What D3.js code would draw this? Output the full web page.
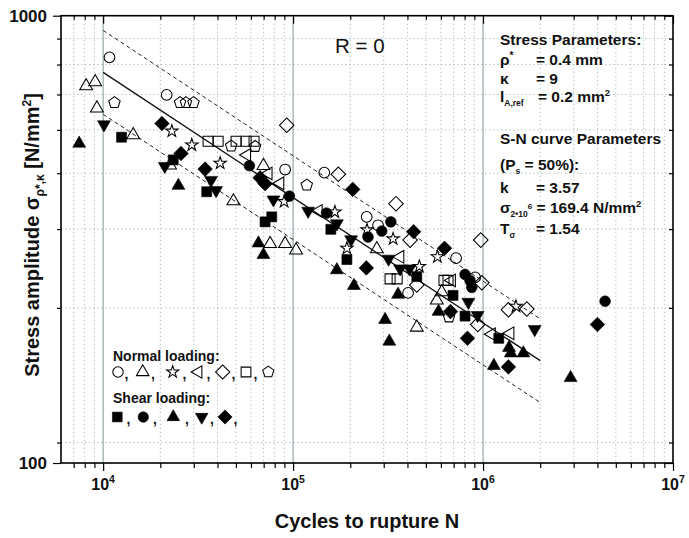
<!DOCTYPE html>
<html>
<head>
<meta charset="utf-8">
<script src="https://cdn.jsdelivr.net/npm/d3@7"></script>
<style>
  body { margin: 0; background: #fff; }
  svg { display: block; font-family: Arial, "Liberation Sans", sans-serif; }
</style>
</head>
<body>
<div id="chart"></div>
<script>
// data: [cycles N, stress amplitude N/mm^2]
const normalCircle = [[10800,807],[21600,665],[90800,453],[146000,446],[244000,355],[280000,340],[403000,240],[721000,287],[908000,260]];
const normalTriangle = [[8140,696],[9080,711],[9270,621],[14400,541],[22500,463],[48500,385],[69800,462],[75700,309],[90800,309],[103700,299],[276000,301],[448000,201],[571000,231],[606000,241]];
const normalStar = [[23000,552],[29300,514],[41300,468],[89700,384],[166000,364],[192000,302],[245000,332],[336000,317],[462000,275],[575000,289],[1490000,224]];
const normalLeftTri = [[57100,488],[74100,444],[85400,422],[136000,366],[366000,289],[684000,256],[1110000,194],[1390000,195]];
const normalDiamond = [[92600,569],[173000,442],[348000,380],[413000,315],[448000,250],[973000,315],[985000,253],[938000,204],[1360000,220],[1700000,221]];
const normalSquare = [[35700,524],[40300,524],[50100,524],[56600,524],[62300,524],[324000,258],[353000,258],[623000,256],[654000,256]];
const normalPentagon = [[11470,639],[25400,639],[27300,639],[29900,639],[47200,511],[63100,510],[118000,418],[662000,212]];

const shearSquare = [[12500,535],[23400,476],[35100,404],[71200,346],[77200,355],[158000,333],[192000,285],[448000,261],[695000,237],[804000,213],[1210000,190]];
const shearCircle = [[58900,462],[95600,395],[150000,362],[248000,320],[293000,330],[327000,346],[804000,264],[854000,256],[872000,247],[4390000,230]];
const shearTriangle = [[7480,518],[24900,417],[65700,310],[69800,292],[170000,270],[209000,249],[305000,209],[321000,187],[357000,238],[583000,218],[1140000,165],[1370000,181],[1400000,176],[1630000,176],[2890000,155]];
const shearDownTri = [[10100,571],[21100,461],[37000,429],[39300,407],[78800,388],[120000,366],[170000,343],[202000,316],[318000,286],[366000,272],[410000,272],[837000,229],[936000,214],[1870000,199]];
const shearDiamond = [[20400,574],[25700,492],[34400,454],[67000,434],[71200,421],[206000,409],[243000,273],[431000,329],[627000,302],[674000,218],[828000,190],[1360000,164],[4000000,204]];

// S-N curve (Ps = 50%) and scatter band end points
const fitN = [1e4, 2e6];
const fitMean = [747, 169.4];
const fitUpper = [927, 210];
const fitLower = [602, 136.5];

// axes
const xDomain = [6000, 1e7];
const yDomain = [100, 1000];
const xDecades = [1e4, 1e5, 1e6, 1e7];
const xDecadeExp = ["4", "5", "6", "7"];
const yMajor = [100, 1000];

const width = 689, height = 538;
const pL = 61, pR = 673, pT = 15.7, pB = 463;

const svg = d3.select("#chart").append("svg")
    .attr("width", width)
    .attr("height", height);

const x = d3.scaleLog().domain(xDomain).range([pL, pR]);
const y = d3.scaleLog().domain(yDomain).range([pB, pT]);

const xMinor = [];
for (let e = 3; e < 7; e++) {
  for (let k = 2; k < 10; k++) {
    const v = k * Math.pow(10, e);
    if (v > xDomain[0] && v < xDomain[1]) xMinor.push(v);
  }
}
const yMinor = d3.range(1, 9).map(k => 1000 * k / 9);

// grid
const grid = svg.append("g");
grid.selectAll(".vg").data(xMinor).enter().append("line")
    .attr("x1", d => x(d)).attr("x2", d => x(d))
    .attr("y1", pT).attr("y2", pB)
    .attr("stroke", "#b3c5c5").attr("stroke-width", 1)
    .attr("stroke-dasharray", "1.5,2.5");
grid.selectAll(".hg").data(yMinor).enter().append("line")
    .attr("x1", pL).attr("x2", pR)
    .attr("y1", d => y(d)).attr("y2", d => y(d))
    .attr("stroke", "#b3c5c5").attr("stroke-width", 1)
    .attr("stroke-dasharray", "1.5,2.5");
grid.selectAll(".dg").data(xDecades.slice(0, 3)).enter().append("line")
    .attr("x1", d => x(d)).attr("x2", d => x(d))
    .attr("y1", pT).attr("y2", pB)
    .attr("stroke", "#8d9fa4").attr("stroke-width", 1.1);

// S-N lines
const line = d3.line().x(d => x(d[0])).y(d => y(d[1]));
const pairs = arr => fitN.map((n, i) => [n, arr[i]]);
svg.append("path").attr("d", line(pairs(fitMean)))
    .attr("fill", "none").attr("stroke", "#111").attr("stroke-width", 1.3);
[fitUpper, fitLower].forEach(arr => {
  svg.append("path").attr("d", line(pairs(arr)))
      .attr("fill", "none").attr("stroke", "#222").attr("stroke-width", 1)
      .attr("stroke-dasharray", "4,3");
});

// symbols
const symbolPentagon = {
  draw(ctx, size) {
    const r = Math.sqrt(size / 2.3776);
    for (let i = 0; i < 5; i++) {
      const a = -Math.PI / 2 + i * 2 * Math.PI / 5;
      if (i === 0) ctx.moveTo(r * Math.cos(a), r * Math.sin(a));
      else ctx.lineTo(r * Math.cos(a), r * Math.sin(a));
    }
    ctx.closePath();
  }
};

const shapes = {
  circle:   {type: d3.symbolCircle,   size: 90, rot: 0},
  triangle: {type: d3.symbolTriangle, size: 72, rot: 0},
  down:     {type: d3.symbolTriangle, size: 72, rot: 180},
  leftTri:  {type: d3.symbolTriangle, size: 70, rot: -90},
  star:     {type: d3.symbolStar,     size: 48, rot: 0},
  diamond:  {type: d3.symbolSquare,   size: 106, rot: 45},
  square:   {type: d3.symbolSquare,   size: 100, rot: 0},
  pentagon: {type: symbolPentagon,    size: 86, rot: 0}
};

const series = [
  {data: normalCircle, shape: "circle", filled: false},
  {data: normalTriangle, shape: "triangle", filled: false},
  {data: normalStar, shape: "star", filled: false},
  {data: normalLeftTri, shape: "leftTri", filled: false},
  {data: normalDiamond, shape: "diamond", filled: false},
  {data: normalSquare, shape: "square", filled: false},
  {data: normalPentagon, shape: "pentagon", filled: false},
  {data: shearSquare, shape: "square", filled: true},
  {data: shearCircle, shape: "circle", filled: true},
  {data: shearTriangle, shape: "triangle", filled: true},
  {data: shearDownTri, shape: "down", filled: true},
  {data: shearDiamond, shape: "diamond", filled: true}
];

function drawMarker(g, shape, filled, scale) {
  const s = shapes[shape];
  g.append("path")
      .attr("d", d3.symbol().type(s.type).size(s.size * scale)())
      .attr("transform", s.rot ? `rotate(${s.rot})` : null)
      .attr("fill", filled ? "#000" : "none")
      .attr("stroke", "#000")
      .attr("stroke-width", filled ? 0.6 : 1.05);
}

series.forEach(sr => {
  svg.append("g").selectAll("g").data(sr.data).enter().append("g")
      .attr("transform", d => `translate(${x(d[0])},${y(d[1])})`)
      .each(function () { drawMarker(d3.select(this), sr.shape, sr.filled, 1); });
});

// axes
const axisG = (gen, tx, ty) => {
  const g = svg.append("g").attr("transform", `translate(${tx},${ty})`).call(gen);
  g.select(".domain").remove();
  g.selectAll("line").attr("stroke", "#000").attr("stroke-width", 1.2);
  return g;
};
axisG(d3.axisBottom(x).tickValues(xMinor).tickSizeInner(5).tickSizeOuter(0).tickFormat(""), 0, pB);
axisG(d3.axisBottom(x).tickValues(xDecades).tickSizeInner(8).tickSizeOuter(0).tickFormat(""), 0, pB);
axisG(d3.axisTop(x).tickValues(xMinor).tickSizeInner(-4).tickSizeOuter(0).tickFormat(""), 0, pT);
axisG(d3.axisTop(x).tickValues(xDecades).tickSizeInner(-8).tickSizeOuter(0).tickFormat(""), 0, pT);
axisG(d3.axisLeft(y).tickValues(yMinor).tickSizeInner(4).tickSizeOuter(0).tickFormat(""), pL, 0);
const yLab = axisG(d3.axisLeft(y).tickValues(yMajor).tickSizeInner(8).tickSizeOuter(0).tickPadding(6).tickFormat(d3.format("d")), pL, 0);
yLab.attr("font-size", 17).attr("font-weight", "bold").attr("font-family", null);
yLab.selectAll("text").attr("fill", "#111");
axisG(d3.axisRight(y).tickValues(yMinor).tickSizeInner(-4).tickSizeOuter(0).tickFormat(""), pR, 0);
axisG(d3.axisRight(y).tickValues(yMajor).tickSizeInner(-8).tickSizeOuter(0).tickFormat(""), pR, 0);

svg.append("rect")
    .attr("x", pL).attr("y", pT)
    .attr("width", pR - pL).attr("height", pB - pT)
    .attr("fill", "none").attr("stroke", "#000").attr("stroke-width", 1.6);

// x tick labels 10^n
const xl = svg.append("g").attr("font-weight", "bold").attr("fill", "#111");
xDecades.forEach((d, i) => {
  const t = xl.append("text")
      .attr("x", x(d)).attr("y", 489.5)
      .attr("text-anchor", "middle").attr("font-size", 16);
  t.append("tspan").text("10");
  t.append("tspan").attr("font-size", 10.5).attr("dy", -7).text(xDecadeExp[i]);
});

// axis titles
svg.append("text")
    .attr("x", 367).attr("y", 528)
    .attr("text-anchor", "middle")
    .attr("font-size", 20).attr("font-weight", "bold").attr("fill", "#111")
    .text("Cycles to rupture N");

const yt = svg.append("text")
    .attr("transform", "translate(39,235) rotate(-90)")
    .attr("text-anchor", "middle")
    .attr("font-size", 20).attr("font-weight", "bold").attr("fill", "#111");
yt.append("tspan").text("Stress amplitude σ");
yt.append("tspan").attr("font-size", 12).attr("dy", 5).text("ρ*,κ");
yt.append("tspan").attr("dy", -5).text(" [N/mm");
yt.append("tspan").attr("font-size", 12).attr("dy", -8).text("2");
yt.append("tspan").attr("dy", 8).text("]");

// R = 0
svg.append("text")
    .attr("x", 335).attr("y", 53)
    .attr("font-size", 20.5).attr("fill", "#111")
    .text("R = 0");

// parameter block
const pb = svg.append("g").attr("font-size", 15.5).attr("font-weight", "bold").attr("fill", "#111");
const px = 500, eqx = 536;
pb.append("text").attr("x", px).attr("y", 45).text("Stress Parameters:");
let t = pb.append("text").attr("x", px).attr("y", 64.5);
t.append("tspan").text("ρ");
t.append("tspan").attr("font-size", 10).attr("dy", -6).text("*");
pb.append("text").attr("x", eqx).attr("y", 64.5).text("= 0.4 mm");
pb.append("text").attr("x", px).attr("y", 83.5).text("κ");
pb.append("text").attr("x", eqx).attr("y", 83.5).text("= 9");
t = pb.append("text").attr("x", px).attr("y", 102);
t.append("tspan").text("l");
t.append("tspan").attr("font-size", 8.5).attr("dy", 4).text("A,ref");
t = pb.append("text").attr("x", eqx + 2).attr("y", 102);
t.append("tspan").text("= 0.2 mm");
t.append("tspan").attr("font-size", 9.5).attr("dy", -6).text("2");
pb.append("text").attr("x", px).attr("y", 144).text("S-N curve Parameters");
t = pb.append("text").attr("x", px).attr("y", 170);
t.append("tspan").text("(P");
t.append("tspan").attr("font-size", 8.5).attr("dy", 4).text("s");
t.append("tspan").attr("dy", -4).text(" = 50%):");
pb.append("text").attr("x", px).attr("y", 193).text("k");
pb.append("text").attr("x", eqx).attr("y", 193).text("= 3.57");
t = pb.append("text").attr("x", px).attr("y", 212.5);
t.append("tspan").text("σ");
t.append("tspan").attr("font-size", 8.5).attr("dy", 4).text("2•10");
t.append("tspan").attr("font-size", 8).attr("dy", -8).text("6");
t.append("tspan").attr("dy", 4).text(" = 169.4 N/mm");
t.append("tspan").attr("font-size", 9.5).attr("dy", -6).text("2");
t = pb.append("text").attr("x", px).attr("y", 234);
t.append("tspan").text("T");
t.append("tspan").attr("font-size", 8.5).attr("dy", 4).text("σ");
pb.append("text").attr("x", eqx).attr("y", 234).text("= 1.54");

// legend
const lg = svg.append("g").attr("font-size", 14).attr("font-weight", "bold").attr("fill", "#111");
lg.append("text").attr("x", 113).attr("y", 360.5).text("Normal loading:");
lg.append("text").attr("x", 113).attr("y", 402.5).text("Shear loading:");
const row1 = [["circle",118],["triangle",142.7],["star",172.7],["leftTri",198.3],["diamond",222.7],["square",246],["pentagon",268.3]];
const row1Commas = [126.5, 153, 184.5, 208.5, 233.5, 255.5];
const row2 = [["square",117.3],["circle",143.3],["triangle",173.3],["down",201.7],["diamond",225]];
const row2Commas = [128.5, 155, 187, 212, 235.5];
row1.forEach(([s, cx]) => drawMarker(svg.append("g").attr("transform", `translate(${cx},372)`), s, false, 0.95));
row2.forEach(([s, cx]) => drawMarker(svg.append("g").attr("transform", `translate(${cx},417)`), s, true, 0.95));
row1Commas.forEach(cx => lg.append("text").attr("x", cx).attr("y", 379).attr("text-anchor", "middle").text(","));
row2Commas.forEach(cx => lg.append("text").attr("x", cx).attr("y", 424).attr("text-anchor", "middle").text(","));
</script>
</body>
</html>
